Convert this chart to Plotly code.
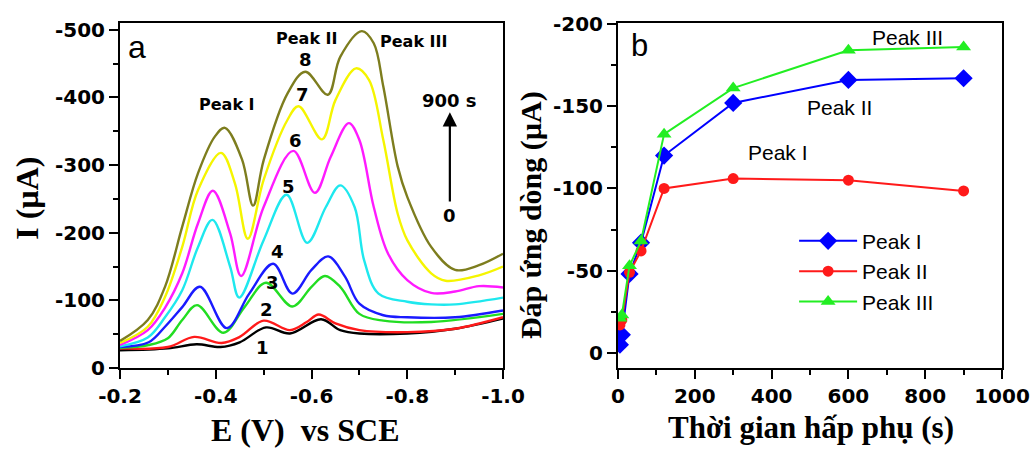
import plotly.graph_objects as go

# ---- Panel a: stripping voltammograms at increasing adsorption time (curves 1-8) ----
e1 = [-0.2, -0.3, -0.36, -0.41, -0.45, -0.505, -0.555, -0.62, -0.66, -0.7, -0.8, -0.9, -1.0]
i1 = [26, 29, 35, 31, 38, 60, 51, 72, 56, 51, 51, 58, 73]

e2 = [-0.2, -0.3, -0.355, -0.412, -0.45, -0.5, -0.555, -0.59, -0.615, -0.65, -0.7, -0.8, -0.9, -1.0]
i2 = [29, 31, 46, 37, 46, 70, 56, 68, 79, 66, 56, 53, 58, 75]

e3 = [-0.2, -0.26, -0.3, -0.33, -0.361, -0.416, -0.46, -0.505, -0.56, -0.6, -0.628, -0.66, -0.7, -0.75, -0.85, -1.0]
i3 = [30, 34, 44, 71, 93, 52, 90, 126, 91, 120, 136, 120, 80, 70, 68, 80]

e4 = [-0.2, -0.26, -0.294, -0.33, -0.367, -0.423, -0.47, -0.52, -0.56, -0.6, -0.635, -0.67, -0.7, -0.75, -0.8, -0.9, -1.0]
i4 = [31, 38, 61, 90, 120, 59, 110, 154, 110, 145, 165, 135, 95, 78, 75, 75, 85]

e5 = [-0.2, -0.258, -0.294, -0.33, -0.363, -0.393, -0.43, -0.449, -0.5, -0.548, -0.591, -0.63, -0.66, -0.69, -0.71, -0.74, -0.8, -0.85, -0.9, -1.0]
i5 = [32, 45, 75, 115, 179, 219, 150, 104, 189, 256, 185, 238, 270, 238, 159, 110, 98, 94, 94, 104]

e6 = [-0.2, -0.258, -0.294, -0.33, -0.363, -0.394, -0.43, -0.453, -0.5, -0.562, -0.607, -0.64, -0.678, -0.7, -0.73, -0.76, -0.8, -0.85, -0.9, -0.95, -1.0]
i6 = [34, 56, 89, 140, 214, 262, 199, 136, 238, 321, 259, 312, 362, 337, 238, 169, 130, 111, 113, 121, 119]

e7 = [-0.2, -0.258, -0.294, -0.33, -0.363, -0.411, -0.44, -0.467, -0.5, -0.55, -0.573, -0.622, -0.65, -0.693, -0.72, -0.75, -0.78, -0.8, -0.85, -0.88, -0.95, -1.0]
i7 = [37, 61, 105, 179, 263, 318, 273, 191, 278, 367, 387, 338, 396, 443, 426, 337, 228, 189, 140, 129, 137, 150]

e8 = [-0.2, -0.258, -0.294, -0.33, -0.363, -0.398, -0.419, -0.455, -0.478, -0.5, -0.55, -0.587, -0.634, -0.66, -0.705, -0.73, -0.75, -0.78, -0.8, -0.85, -0.9, -0.95, -1.0]
i8 = [40, 71, 120, 209, 288, 342, 355, 308, 240, 307, 406, 438, 404, 460, 498, 480, 416, 298, 253, 179, 145, 152, 169]

curve_e = [e1, e2, e3, e4, e5, e6, e7, e8]
curve_i = [i1, i2, i3, i4, i5, i6, i7, i8]
curve_colors = ["#000000", "#ff1a1a", "#22dd22", "#1a1aff", "#1ee8ee", "#ff1aff", "#f5f500", "#7d7d1e"]
curve_labels = ["1", "2", "3", "4", "5", "6", "7", "8"]
label_pos_e = [-0.497, -0.505, -0.519, -0.530, -0.551, -0.566, -0.582, -0.588]
label_pos_i = [-30, -87, -126, -172, -269, -336, -404, -456]

# tick labels (plain hyphen minus)
a_xticks = [-0.2, -0.4, -0.6, -0.8, -1.0]
a_xlabels = ["-0.2", "-0.4", "-0.6", "-0.8", "-1.0"]
a_yticks = [0, -100, -200, -300, -400, -500]
a_ylabels = ["0", "-100", "-200", "-300", "-400", "-500"]

# ---- Panel b: peak current versus adsorption time ----
times = [5, 10, 30, 60, 120, 300, 600, 900]
peak1 = [-5, -11, -48, -67, -120, -152, -166, -167]
peak2 = [-17, -20, -49, -62, -100, -106, -105, -98.5]
peak3 = [-21, -23, -53, -68, -133, -161, -184, -186]

b_xticks = [0, 200, 400, 600, 800, 1000]
b_xlabels = ["0", "200", "400", "600", "800", "1000"]
b_yticks = [0, -50, -100, -150, -200]
b_ylabels = ["0", "-50", "-100", "-150", "-200"]

tick_font = dict(family="DejaVu Sans", size=20, color="black", weight="bold")
serif_bold = dict(family="Liberation Serif", size=32, color="black", weight="bold")

fig = go.Figure()

for k in range(len(curve_e)):
    fig.add_trace(go.Scatter(
        x=curve_e[k], y=[-v for v in curve_i[k]], mode="lines",
        line=dict(color=curve_colors[k], width=2.4, shape="spline", smoothing=1.0),
        xaxis="x", yaxis="y", showlegend=False, hoverinfo="skip"))

fig.add_trace(go.Scatter(
    x=times, y=peak1, mode="lines+markers", name="Peak I",
    line=dict(color="#0000ff", width=2), marker=dict(symbol="diamond", size=14, color="#0000ff"),
    xaxis="x2", yaxis="y2"))
fig.add_trace(go.Scatter(
    x=times, y=peak2, mode="lines+markers", name="Peak II",
    line=dict(color="#ff1a1a", width=2), marker=dict(symbol="circle", size=11, color="#ff1a1a"),
    xaxis="x2", yaxis="y2"))
fig.add_trace(go.Scatter(
    x=times, y=peak3, mode="lines+markers", name="Peak III",
    line=dict(color="#22ee22", width=2), marker=dict(symbol="triangle-up", size=13, color="#22ee22"),
    xaxis="x2", yaxis="y2"))

axis_common = dict(
    showgrid=False, zeroline=False, showline=True, linecolor="black", linewidth=2,
    mirror=True, ticks="outside", ticklen=9, tickwidth=2, tickcolor="black",
    tickfont=tick_font, fixedrange=True, automargin=False,
)
minor_style = dict(ticks="outside", ticklen=5, tickwidth=2, tickcolor="black")

annotations = []
# curve numbers
for k in range(len(curve_labels)):
    annotations.append(dict(
        x=label_pos_e[k], y=label_pos_i[k], xref="x", yref="y", text=curve_labels[k],
        showarrow=False, font=dict(family="DejaVu Sans", size=18, color="black", weight="bold")))
peak_font_a = dict(family="DejaVu Sans", size=16, color="black", weight="bold")
annotations += [
    dict(x=-0.2355, y=-475, xref="x", yref="y", text="a", showarrow=False,
         font=dict(family="Liberation Sans", size=32, color="black")),
    dict(x=-0.4235, y=-389, xref="x", yref="y", text="Peak I", showarrow=False, font=peak_font_a),
    dict(x=-0.591, y=-487, xref="x", yref="y", text="Peak II", showarrow=False, font=peak_font_a),
    dict(x=-0.812, y=-482, xref="x", yref="y", text="Peak III", showarrow=False, font=peak_font_a),
    dict(x=-0.889, y=-396, xref="x", yref="y", text="900 s", showarrow=False,
         font=dict(family="DejaVu Sans", size=18, color="black", weight="bold")),
    dict(x=-0.889, y=-225, xref="x", yref="y", text="0", showarrow=False,
         font=dict(family="DejaVu Sans", size=18, color="black", weight="bold")),
    dict(x=-0.889, y=-378, ax=-0.889, ay=-244, xref="x", yref="y", axref="x", ayref="y",
         text="", showarrow=True, arrowhead=2, arrowsize=1.3, arrowwidth=2.2, arrowcolor="black"),
    # panel b texts
    dict(x=57, y=-187, xref="x2", yref="y2", text="b", showarrow=False,
         font=dict(family="Liberation Sans", size=31, color="black")),
    dict(x=755, y=-192, xref="x2", yref="y2", text="Peak III", showarrow=False,
         font=dict(family="Liberation Sans", size=21, color="black")),
    dict(x=578, y=-149, xref="x2", yref="y2", text="Peak II", showarrow=False,
         font=dict(family="Liberation Sans", size=21, color="black")),
    dict(x=417, y=-122, xref="x2", yref="y2", text="Peak I", showarrow=False,
         font=dict(family="Liberation Sans", size=21, color="black")),
    # axis titles
    dict(x=0.295, y=-0.18, xref="paper", yref="paper", text="E (V)  vs SCE", showarrow=False,
         font=serif_bold, xanchor="center", yanchor="middle"),
    dict(x=0.026, y=0.493, xref="paper", yref="paper", text="I (µA)", showarrow=False,
         font=serif_bold, textangle=-90, xanchor="center", yanchor="middle"),
    dict(x=0.784, y=-0.172, xref="paper", yref="paper", text="Thời gian hấp phụ (s)", showarrow=False,
         font=dict(family="Liberation Serif", size=31, color="black", weight="bold"),
         xanchor="center", yanchor="middle"),
    dict(x=0.5135, y=0.443, xref="paper", yref="paper", text="Đáp ứng dòng (µA)", showarrow=False,
         font=dict(family="Liberation Serif", size=30, color="black", weight="bold"),
         textangle=-90, xanchor="center", yanchor="middle"),
]

fig.update_layout(
    width=1034, height=450,
    margin=dict(l=0, r=0, t=23, b=82, autoexpand=False),
    paper_bgcolor="white", plot_bgcolor="white",
    xaxis=dict(axis_common, domain=[120 / 1034, 503 / 1034], range=[-0.2, -1.0],
               tickvals=a_xticks, ticktext=a_xlabels, minor=dict(minor_style, dtick=0.1),
               anchor="y"),
    yaxis=dict(axis_common, domain=[0, 1], range=[0, -510],
               tickvals=a_yticks, ticktext=a_ylabels, minor=dict(minor_style, dtick=50),
               anchor="x"),
    xaxis2=dict(axis_common, domain=[618 / 1034, 1002 / 1034], range=[0, 1000],
                tickvals=b_xticks, ticktext=b_xlabels, minor=dict(minor_style, dtick=100),
                anchor="y2"),
    yaxis2=dict(axis_common, domain=[0, 1], range=[9.2, -200.6],
                tickvals=b_yticks, ticktext=b_ylabels, minor=dict(minor_style, dtick=25),
                anchor="x2"),
    legend=dict(x=0.768, y=0.427, xanchor="left", yanchor="top", bgcolor="rgba(0,0,0,0)",
                font=dict(family="Liberation Sans", size=21, color="black"),
                itemwidth=58, tracegroupgap=0),
    annotations=annotations,
)

fig.write_html("out.html")
